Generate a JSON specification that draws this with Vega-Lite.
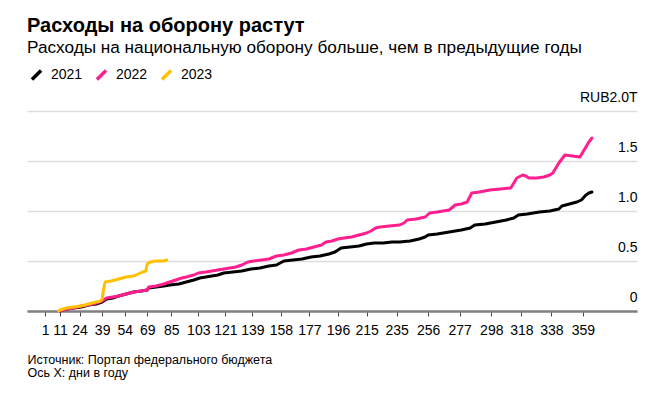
{
  "$schema": "https://vega.github.io/schema/vega-lite/v6.json",
  "width": 610,
  "height": 200,
  "autosize": {"type": "none"},
  "padding": {"left": 27, "top": 111, "right": 34, "bottom": 85},
  "background": "#ffffff",
  "config": {
    "font": "Liberation Sans",
    "view": {"stroke": null}
  },
  "title": {
    "text": "Расходы на оборону растут",
    "subtitle": "Расходы на национальную оборону больше, чем в предыдущие годы",
    "anchor": "start",
    "frame": "group",
    "font": "Liberation Sans",
    "fontSize": 20,
    "fontWeight": "bold",
    "color": "#000000",
    "subtitleFont": "Liberation Sans",
    "subtitleFontSize": 17.2,
    "subtitleColor": "#000000",
    "subtitlePadding": 3,
    "offset": 9
  },
  "data": {
    "values": [
      {"year": "2021", "day": 11, "value": 0.00},
      {"year": "2021", "day": 15, "value": 0.02},
      {"year": "2021", "day": 20, "value": 0.03},
      {"year": "2021", "day": 25, "value": 0.04},
      {"year": "2021", "day": 30, "value": 0.06},
      {"year": "2021", "day": 35, "value": 0.07},
      {"year": "2021", "day": 39, "value": 0.09},
      {"year": "2021", "day": 42, "value": 0.12},
      {"year": "2021", "day": 46, "value": 0.13},
      {"year": "2021", "day": 50, "value": 0.15},
      {"year": "2021", "day": 55, "value": 0.17},
      {"year": "2021", "day": 60, "value": 0.19},
      {"year": "2021", "day": 65, "value": 0.20},
      {"year": "2021", "day": 69, "value": 0.21},
      {"year": "2021", "day": 70, "value": 0.23},
      {"year": "2021", "day": 75, "value": 0.24},
      {"year": "2021", "day": 80, "value": 0.25},
      {"year": "2021", "day": 84, "value": 0.26},
      {"year": "2021", "day": 90, "value": 0.27},
      {"year": "2021", "day": 95, "value": 0.29},
      {"year": "2021", "day": 100, "value": 0.31},
      {"year": "2021", "day": 104, "value": 0.33},
      {"year": "2021", "day": 108, "value": 0.34},
      {"year": "2021", "day": 112, "value": 0.35},
      {"year": "2021", "day": 116, "value": 0.36},
      {"year": "2021", "day": 120, "value": 0.38},
      {"year": "2021", "day": 126, "value": 0.39},
      {"year": "2021", "day": 132, "value": 0.40},
      {"year": "2021", "day": 138, "value": 0.42},
      {"year": "2021", "day": 144, "value": 0.43},
      {"year": "2021", "day": 150, "value": 0.45},
      {"year": "2021", "day": 155, "value": 0.46},
      {"year": "2021", "day": 160, "value": 0.50},
      {"year": "2021", "day": 166, "value": 0.51},
      {"year": "2021", "day": 172, "value": 0.52},
      {"year": "2021", "day": 178, "value": 0.54},
      {"year": "2021", "day": 184, "value": 0.55},
      {"year": "2021", "day": 190, "value": 0.57},
      {"year": "2021", "day": 194, "value": 0.59},
      {"year": "2021", "day": 198, "value": 0.63},
      {"year": "2021", "day": 204, "value": 0.64},
      {"year": "2021", "day": 210, "value": 0.65},
      {"year": "2021", "day": 215, "value": 0.67},
      {"year": "2021", "day": 220, "value": 0.68},
      {"year": "2021", "day": 226, "value": 0.68},
      {"year": "2021", "day": 232, "value": 0.69},
      {"year": "2021", "day": 237, "value": 0.69},
      {"year": "2021", "day": 244, "value": 0.70},
      {"year": "2021", "day": 250, "value": 0.72},
      {"year": "2021", "day": 254, "value": 0.74},
      {"year": "2021", "day": 256, "value": 0.76},
      {"year": "2021", "day": 262, "value": 0.77},
      {"year": "2021", "day": 270, "value": 0.79},
      {"year": "2021", "day": 278, "value": 0.81},
      {"year": "2021", "day": 284, "value": 0.83},
      {"year": "2021", "day": 287, "value": 0.86},
      {"year": "2021", "day": 294, "value": 0.87},
      {"year": "2021", "day": 301, "value": 0.89},
      {"year": "2021", "day": 308, "value": 0.91},
      {"year": "2021", "day": 313, "value": 0.93},
      {"year": "2021", "day": 316, "value": 0.96},
      {"year": "2021", "day": 322, "value": 0.97},
      {"year": "2021", "day": 330, "value": 0.99},
      {"year": "2021", "day": 337, "value": 1.00},
      {"year": "2021", "day": 343, "value": 1.02},
      {"year": "2021", "day": 345, "value": 1.05},
      {"year": "2021", "day": 350, "value": 1.07},
      {"year": "2021", "day": 355, "value": 1.09},
      {"year": "2021", "day": 358, "value": 1.11},
      {"year": "2021", "day": 361, "value": 1.16},
      {"year": "2021", "day": 363, "value": 1.18},
      {"year": "2021", "day": 365, "value": 1.19},

      {"year": "2022", "day": 11, "value": 0.00},
      {"year": "2022", "day": 15, "value": 0.02},
      {"year": "2022", "day": 20, "value": 0.03},
      {"year": "2022", "day": 25, "value": 0.05},
      {"year": "2022", "day": 30, "value": 0.06},
      {"year": "2022", "day": 35, "value": 0.08},
      {"year": "2022", "day": 39, "value": 0.10},
      {"year": "2022", "day": 42, "value": 0.13},
      {"year": "2022", "day": 46, "value": 0.14},
      {"year": "2022", "day": 50, "value": 0.15},
      {"year": "2022", "day": 55, "value": 0.17},
      {"year": "2022", "day": 60, "value": 0.19},
      {"year": "2022", "day": 65, "value": 0.20},
      {"year": "2022", "day": 69, "value": 0.21},
      {"year": "2022", "day": 70, "value": 0.24},
      {"year": "2022", "day": 75, "value": 0.25},
      {"year": "2022", "day": 80, "value": 0.27},
      {"year": "2022", "day": 84, "value": 0.29},
      {"year": "2022", "day": 88, "value": 0.31},
      {"year": "2022", "day": 92, "value": 0.33},
      {"year": "2022", "day": 95, "value": 0.34},
      {"year": "2022", "day": 100, "value": 0.36},
      {"year": "2022", "day": 103, "value": 0.38},
      {"year": "2022", "day": 108, "value": 0.39},
      {"year": "2022", "day": 112, "value": 0.40},
      {"year": "2022", "day": 116, "value": 0.41},
      {"year": "2022", "day": 120, "value": 0.42},
      {"year": "2022", "day": 124, "value": 0.43},
      {"year": "2022", "day": 128, "value": 0.44},
      {"year": "2022", "day": 132, "value": 0.46},
      {"year": "2022", "day": 136, "value": 0.49},
      {"year": "2022", "day": 140, "value": 0.50},
      {"year": "2022", "day": 145, "value": 0.51},
      {"year": "2022", "day": 150, "value": 0.52},
      {"year": "2022", "day": 155, "value": 0.55},
      {"year": "2022", "day": 160, "value": 0.56},
      {"year": "2022", "day": 165, "value": 0.58},
      {"year": "2022", "day": 170, "value": 0.61},
      {"year": "2022", "day": 175, "value": 0.62},
      {"year": "2022", "day": 180, "value": 0.64},
      {"year": "2022", "day": 185, "value": 0.66},
      {"year": "2022", "day": 188, "value": 0.69},
      {"year": "2022", "day": 192, "value": 0.70},
      {"year": "2022", "day": 196, "value": 0.72},
      {"year": "2022", "day": 200, "value": 0.73},
      {"year": "2022", "day": 205, "value": 0.74},
      {"year": "2022", "day": 210, "value": 0.76},
      {"year": "2022", "day": 215, "value": 0.78},
      {"year": "2022", "day": 218, "value": 0.80},
      {"year": "2022", "day": 221, "value": 0.83},
      {"year": "2022", "day": 224, "value": 0.84},
      {"year": "2022", "day": 230, "value": 0.85},
      {"year": "2022", "day": 237, "value": 0.86},
      {"year": "2022", "day": 240, "value": 0.88},
      {"year": "2022", "day": 242, "value": 0.91},
      {"year": "2022", "day": 248, "value": 0.92},
      {"year": "2022", "day": 254, "value": 0.94},
      {"year": "2022", "day": 257, "value": 0.98},
      {"year": "2022", "day": 262, "value": 0.99},
      {"year": "2022", "day": 270, "value": 1.01},
      {"year": "2022", "day": 274, "value": 1.06},
      {"year": "2022", "day": 278, "value": 1.07},
      {"year": "2022", "day": 282, "value": 1.09},
      {"year": "2022", "day": 285, "value": 1.18},
      {"year": "2022", "day": 290, "value": 1.19},
      {"year": "2022", "day": 297, "value": 1.21},
      {"year": "2022", "day": 304, "value": 1.22},
      {"year": "2022", "day": 311, "value": 1.23},
      {"year": "2022", "day": 313, "value": 1.28},
      {"year": "2022", "day": 315, "value": 1.33},
      {"year": "2022", "day": 319, "value": 1.36},
      {"year": "2022", "day": 321, "value": 1.35},
      {"year": "2022", "day": 323, "value": 1.33},
      {"year": "2022", "day": 328, "value": 1.33},
      {"year": "2022", "day": 333, "value": 1.34},
      {"year": "2022", "day": 337, "value": 1.36},
      {"year": "2022", "day": 339, "value": 1.38},
      {"year": "2022", "day": 341, "value": 1.43},
      {"year": "2022", "day": 343, "value": 1.48},
      {"year": "2022", "day": 347, "value": 1.56},
      {"year": "2022", "day": 352, "value": 1.55},
      {"year": "2022", "day": 357, "value": 1.54},
      {"year": "2022", "day": 359, "value": 1.59},
      {"year": "2022", "day": 361, "value": 1.64},
      {"year": "2022", "day": 363, "value": 1.69},
      {"year": "2022", "day": 365, "value": 1.73},

      {"year": "2023", "day": 10, "value": 0.00},
      {"year": "2023", "day": 11, "value": 0.01},
      {"year": "2023", "day": 15, "value": 0.03},
      {"year": "2023", "day": 20, "value": 0.04},
      {"year": "2023", "day": 25, "value": 0.05},
      {"year": "2023", "day": 30, "value": 0.07},
      {"year": "2023", "day": 35, "value": 0.09},
      {"year": "2023", "day": 38, "value": 0.10},
      {"year": "2023", "day": 39, "value": 0.12},
      {"year": "2023", "day": 40, "value": 0.22},
      {"year": "2023", "day": 41, "value": 0.29},
      {"year": "2023", "day": 45, "value": 0.30},
      {"year": "2023", "day": 50, "value": 0.32},
      {"year": "2023", "day": 55, "value": 0.34},
      {"year": "2023", "day": 60, "value": 0.35},
      {"year": "2023", "day": 63, "value": 0.37},
      {"year": "2023", "day": 66, "value": 0.39},
      {"year": "2023", "day": 68, "value": 0.40},
      {"year": "2023", "day": 69, "value": 0.47},
      {"year": "2023", "day": 71, "value": 0.49},
      {"year": "2023", "day": 75, "value": 0.50},
      {"year": "2023", "day": 80, "value": 0.50},
      {"year": "2023", "day": 82, "value": 0.51}
    ]
  },
  "mark": {"type": "line", "strokeWidth": 3, "strokeJoin": "round", "strokeCap": "round"},
  "encoding": {
    "x": {
      "field": "day",
      "type": "quantitative",
      "scale": {"domain": [-11, 395], "nice": false, "zero": false},
      "axis": {
        "values": [1, 11, 24, 39, 54, 69, 85, 103, 121, 139, 158, 177, 196, 215, 235, 256, 277, 298, 318, 338, 359],
        "grid": false,
        "domainColor": "#808080",
        "domainWidth": 2.5,
        "tickColor": "#444444",
        "tickSize": 5,
        "tickWidth": 1,
        "labelFontSize": 14,
        "labelColor": "#000000",
        "labelPadding": 7,
        "labelFlush": false,
        "labelOverlap": false,
        "title": ["Источник: Портал федерального бюджета", "Ось X: дни в году"],
        "titleFontSize": 12.5,
        "titleFontWeight": "normal",
        "titleColor": "#000000",
        "titleAnchor": "start",
        "titleAlign": "left",
        "titleBaseline": "alphabetic",
        "titleX": 0,
        "titleY": 52,
        "titleLineHeight": 13
      }
    },
    "y": {
      "field": "value",
      "type": "quantitative",
      "scale": {"domain": [0, 2], "nice": false},
      "axis": {
        "orient": "right",
        "values": [0, 0.5, 1, 1.5, 2],
        "labelExpr": "datum.value == 2 ? 'RUB2.0T' : datum.value == 0 ? '0' : format(datum.value, '.1f')",
        "grid": true,
        "gridColor": "#dddddd",
        "gridWidth": 1.5,
        "domain": false,
        "ticks": false,
        "tickSize": 0,
        "labelAlign": "right",
        "labelBaseline": "middle",
        "labelOffset": -14,
        "labelPadding": 0,
        "labelFontSize": 14,
        "labelColor": "#000000",
        "title": null
      }
    },
    "color": {
      "field": "year",
      "type": "nominal",
      "scale": {"domain": ["2021", "2022", "2023"], "range": ["#000000", "#ff1f8f", "#ffc000"]},
      "legend": {
        "orient": "none",
        "legendX": 0,
        "legendY": -46,
        "direction": "horizontal",
        "title": null,
        "padding": 0,
        "symbolType": "M-0.6,0.6L0.6,-0.6",
        "symbolStrokeWidth": 3.5,
        "symbolSize": 230,
        "labelFontSize": 14,
        "labelColor": "#000000",
        "labelOffset": 5,
        "columnPadding": 6
      }
    }
  }
}
